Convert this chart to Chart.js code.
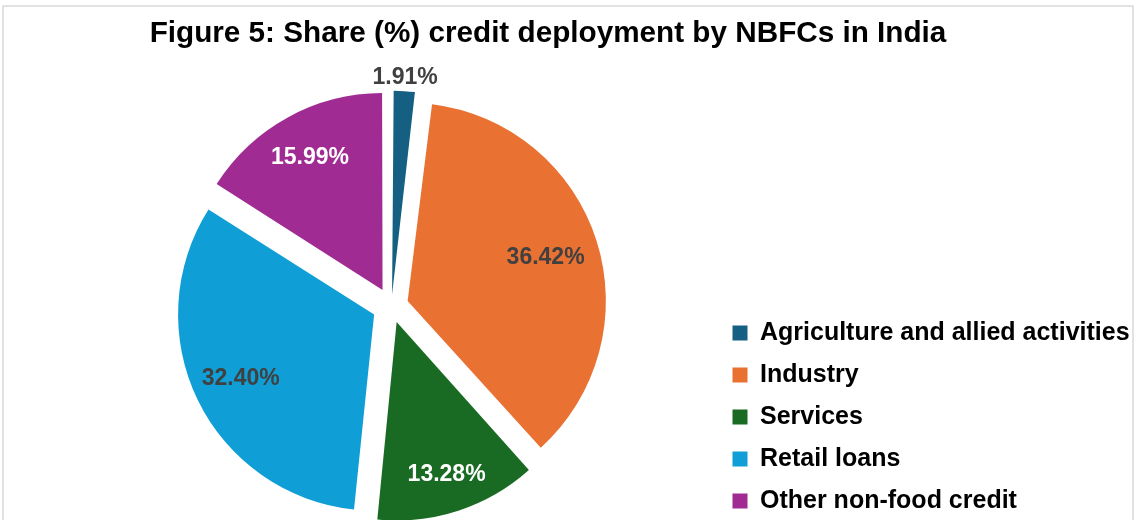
<!DOCTYPE html>
<html>
<head>
<meta charset="utf-8">
<title>NBFC credit deployment</title>
<script src="https://cdn.jsdelivr.net/npm/chart.js@4.4.1/dist/chart.umd.min.js"></script>
<style>
  body { margin: 0; background: #fff; }
</style>
</head>
<body>
<canvas id="myChart" width="1136" height="520"></canvas>

<script>
const categories = ['Agriculture and allied activities', 'Industry', 'Services', 'Retail loans', 'Other non-food credit'];
const shares = [1.91, 36.42, 13.28, 32.40, 15.99];
const sliceColors = ['#156082', '#E97132', '#196B24', '#0F9ED5', '#A02B93'];
const labelColors = ['#404040', '#404040', '#FFFFFF', '#404040', '#FFFFFF'];
const chartTitle = 'Figure 5: Share (%) credit deployment by NBFCs in India';

const EDGE_PUSH = 21.25;  // how far the outer rim of each slice moves out (px)
const RADIUS = 194;

Chart.defaults.font.family = "'Liberation Sans', Arial, sans-serif";

// v4 arcs move by offset/4 and grow by offset/4 * fix; keep the rim push equal for all slices
function slicePush(data, i) {
  const total = data.reduce((a, b) => a + b, 0);
  const circ = Math.PI * 2 * data[i] / total;
  const fix = 1 - Math.sin(Math.min(Math.PI, circ));
  return { move: EDGE_PUSH / (1 + fix), fix };
}

// white page + thin grey chart frame
const frame = {
  id: 'frame',
  beforeDraw(chart) {
    const c = chart.ctx;
    c.save();
    c.fillStyle = '#fff';
    c.fillRect(0, 0, chart.width, chart.height);
    c.strokeStyle = '#d9d9d9';
    c.lineWidth = 1.5;
    c.strokeRect(3, 6, chart.width - 6, chart.height);
    c.restore();
  }
};

// let the long legend line run to the canvas edge instead of being clipped
const legendRoom = {
  id: 'legendRoom',
  afterLayout(chart) {
    chart.legend.right = chart.width;
  }
};

// percentage labels, small slices get theirs outside
const sliceLabels = {
  id: 'sliceLabels',
  afterDatasetsDraw(chart, args, opts) {
    const c = chart.ctx;
    const meta = chart.getDatasetMeta(0);
    c.save();
    c.font = "bold 23px 'Liberation Sans', Arial, sans-serif";
    c.textAlign = 'center';
    c.textBaseline = 'middle';
    meta.data.forEach((arc, i) => {
      const mid = (arc.startAngle + arc.endAngle) / 2;
      const p = slicePush(shares, i);
      const rim = arc.outerRadius + p.move * p.fix;
      const r = shares[i] < 5 ? p.move + rim + 14 : p.move + rim * opts.depth[i];
      c.fillStyle = labelColors[i];
      c.fillText(shares[i].toFixed(2) + '%', arc.x + Math.cos(mid) * r, arc.y + Math.sin(mid) * r);
    });
    c.restore();
  }
};

const config = {
  type: 'pie',
  data: {
    labels: categories,
    datasets: [{
      data: shares,
      backgroundColor: sliceColors,
      borderWidth: 0,
      offset: (ctx) => 4 * slicePush(ctx.dataset.data, ctx.dataIndex).move,
      hoverOffset: 0,
      radius: RADIUS
    }]
  },
  options: {
    responsive: false,
    animation: false,
    layout: {
      padding: { left: 67.3, right: 107.3, top: 0, bottom: -10.5 }
    },
    plugins: {
      title: {
        display: true,
        text: chartTitle,
        color: '#000',
        font: { size: 29.7, weight: 'bold' },
        padding: { top: 15.5, bottom: 41 }
      },
      legend: {
        position: 'right',
        align: 'end',
        maxWidth: 313.2,
        labels: {
          boxWidth: 15,
          boxHeight: 15,
          padding: 17,
          color: '#000',
          font: { size: 25, weight: 'bold' }
        }
      },
      tooltip: { enabled: false },
      sliceLabels: {
        depth: [1, 0.73, 0.81, 0.756, 0.766]
      }
    }
  },
  plugins: [frame, legendRoom, sliceLabels]
};

const myChart = new Chart(document.getElementById('myChart'), config);
</script>
</body>
</html>
